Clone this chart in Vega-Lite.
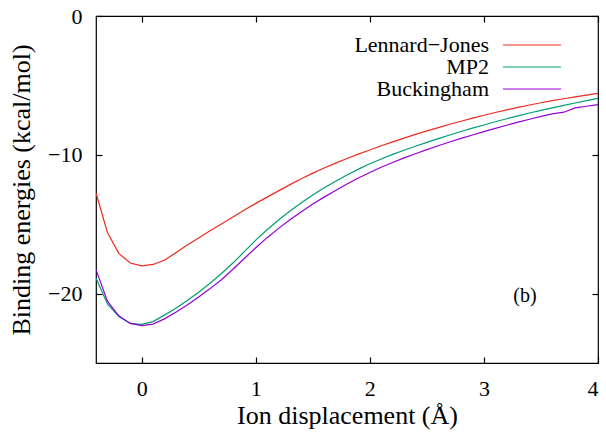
{
  "$schema": "https://vega.github.io/schema/vega-lite/v6.json",
  "autosize": "none",
  "width": 502,
  "height": 347,
  "padding": {"left": 96, "top": 16, "right": 8, "bottom": 71},
  "background": "white",
  "config": {
    "view": {"stroke": "black", "strokeWidth": 1.2},
    "font": "Liberation Serif, Times New Roman, Times, serif",
    "text": {"font": "Liberation Serif, Times New Roman, Times, serif"},
    "axis": {"grid": false, "domain": false, "labelFont": "Liberation Serif, Times New Roman, Times, serif", "titleFont": "Liberation Serif, Times New Roman, Times, serif", "labelFontSize": 22, "titleFontSize": 26, "titleFontWeight": "normal", "labelColor": "black", "titleColor": "black", "tickColor": "black", "tickSize": -6, "tickWidth": 1.2},
    "legend": {"labelFont": "Liberation Serif, Times New Roman, Times, serif"}
  },
  "datasets": {
    "curves": [
      {"x": -0.4, "y": -12.75, "series": "Lennard−Jones"},
      {"x": -0.3, "y": -15.6, "series": "Lennard−Jones"},
      {"x": -0.2, "y": -17.1, "series": "Lennard−Jones"},
      {"x": -0.1, "y": -17.8, "series": "Lennard−Jones"},
      {"x": 0.0, "y": -18.0, "series": "Lennard−Jones"},
      {"x": 0.1, "y": -17.9, "series": "Lennard−Jones"},
      {"x": 0.2, "y": -17.6, "series": "Lennard−Jones"},
      {"x": 0.3, "y": -17.05, "series": "Lennard−Jones"},
      {"x": 0.4, "y": -16.5, "series": "Lennard−Jones"},
      {"x": 0.5, "y": -16.0, "series": "Lennard−Jones"},
      {"x": 0.6, "y": -15.48, "series": "Lennard−Jones"},
      {"x": 0.7, "y": -14.98, "series": "Lennard−Jones"},
      {"x": 0.8, "y": -14.48, "series": "Lennard−Jones"},
      {"x": 0.9, "y": -13.98, "series": "Lennard−Jones"},
      {"x": 1.0, "y": -13.5, "series": "Lennard−Jones"},
      {"x": 1.1, "y": -13.05, "series": "Lennard−Jones"},
      {"x": 1.2, "y": -12.6, "series": "Lennard−Jones"},
      {"x": 1.3, "y": -12.15, "series": "Lennard−Jones"},
      {"x": 1.4, "y": -11.72, "series": "Lennard−Jones"},
      {"x": 1.5, "y": -11.32, "series": "Lennard−Jones"},
      {"x": 1.6, "y": -10.95, "series": "Lennard−Jones"},
      {"x": 1.7, "y": -10.6, "series": "Lennard−Jones"},
      {"x": 1.8, "y": -10.27, "series": "Lennard−Jones"},
      {"x": 1.9, "y": -9.95, "series": "Lennard−Jones"},
      {"x": 2.0, "y": -9.65, "series": "Lennard−Jones"},
      {"x": 2.1, "y": -9.35, "series": "Lennard−Jones"},
      {"x": 2.2, "y": -9.07, "series": "Lennard−Jones"},
      {"x": 2.3, "y": -8.8, "series": "Lennard−Jones"},
      {"x": 2.4, "y": -8.53, "series": "Lennard−Jones"},
      {"x": 2.5, "y": -8.28, "series": "Lennard−Jones"},
      {"x": 2.6, "y": -8.04, "series": "Lennard−Jones"},
      {"x": 2.7, "y": -7.8, "series": "Lennard−Jones"},
      {"x": 2.8, "y": -7.58, "series": "Lennard−Jones"},
      {"x": 2.9, "y": -7.36, "series": "Lennard−Jones"},
      {"x": 3.0, "y": -7.15, "series": "Lennard−Jones"},
      {"x": 3.1, "y": -6.95, "series": "Lennard−Jones"},
      {"x": 3.2, "y": -6.76, "series": "Lennard−Jones"},
      {"x": 3.3, "y": -6.58, "series": "Lennard−Jones"},
      {"x": 3.4, "y": -6.41, "series": "Lennard−Jones"},
      {"x": 3.5, "y": -6.25, "series": "Lennard−Jones"},
      {"x": 3.6, "y": -6.1, "series": "Lennard−Jones"},
      {"x": 3.7, "y": -5.96, "series": "Lennard−Jones"},
      {"x": 3.8, "y": -5.83, "series": "Lennard−Jones"},
      {"x": 3.9, "y": -5.7, "series": "Lennard−Jones"},
      {"x": 4.0, "y": -5.58, "series": "Lennard−Jones"},
      {"x": -0.4, "y": -18.87, "series": "MP2"},
      {"x": -0.3, "y": -20.75, "series": "MP2"},
      {"x": -0.2, "y": -21.65, "series": "MP2"},
      {"x": -0.1, "y": -22.15, "series": "MP2"},
      {"x": 0.0, "y": -22.22, "series": "MP2"},
      {"x": 0.1, "y": -22.02, "series": "MP2"},
      {"x": 0.2, "y": -21.55, "series": "MP2"},
      {"x": 0.3, "y": -21.05, "series": "MP2"},
      {"x": 0.4, "y": -20.5, "series": "MP2"},
      {"x": 0.5, "y": -19.9, "series": "MP2"},
      {"x": 0.6, "y": -19.25, "series": "MP2"},
      {"x": 0.7, "y": -18.55, "series": "MP2"},
      {"x": 0.8, "y": -17.8, "series": "MP2"},
      {"x": 0.9, "y": -16.98, "series": "MP2"},
      {"x": 1.0, "y": -16.15, "series": "MP2"},
      {"x": 1.1, "y": -15.4, "series": "MP2"},
      {"x": 1.2, "y": -14.7, "series": "MP2"},
      {"x": 1.3, "y": -14.05, "series": "MP2"},
      {"x": 1.4, "y": -13.45, "series": "MP2"},
      {"x": 1.5, "y": -12.9, "series": "MP2"},
      {"x": 1.6, "y": -12.38, "series": "MP2"},
      {"x": 1.7, "y": -11.9, "series": "MP2"},
      {"x": 1.8, "y": -11.45, "series": "MP2"},
      {"x": 1.9, "y": -11.03, "series": "MP2"},
      {"x": 2.0, "y": -10.65, "series": "MP2"},
      {"x": 2.1, "y": -10.3, "series": "MP2"},
      {"x": 2.2, "y": -9.97, "series": "MP2"},
      {"x": 2.3, "y": -9.67, "series": "MP2"},
      {"x": 2.4, "y": -9.38, "series": "MP2"},
      {"x": 2.5, "y": -9.1, "series": "MP2"},
      {"x": 2.6, "y": -8.83, "series": "MP2"},
      {"x": 2.7, "y": -8.57, "series": "MP2"},
      {"x": 2.8, "y": -8.32, "series": "MP2"},
      {"x": 2.9, "y": -8.08, "series": "MP2"},
      {"x": 3.0, "y": -7.85, "series": "MP2"},
      {"x": 3.1, "y": -7.62, "series": "MP2"},
      {"x": 3.2, "y": -7.4, "series": "MP2"},
      {"x": 3.3, "y": -7.19, "series": "MP2"},
      {"x": 3.4, "y": -6.99, "series": "MP2"},
      {"x": 3.5, "y": -6.8, "series": "MP2"},
      {"x": 3.6, "y": -6.62, "series": "MP2"},
      {"x": 3.7, "y": -6.44, "series": "MP2"},
      {"x": 3.8, "y": -6.27, "series": "MP2"},
      {"x": 3.9, "y": -6.1, "series": "MP2"},
      {"x": 4.0, "y": -5.93, "series": "MP2"},
      {"x": -0.4, "y": -18.27, "series": "Buckingham"},
      {"x": -0.3, "y": -20.55, "series": "Buckingham"},
      {"x": -0.2, "y": -21.6, "series": "Buckingham"},
      {"x": -0.1, "y": -22.15, "series": "Buckingham"},
      {"x": 0.0, "y": -22.3, "series": "Buckingham"},
      {"x": 0.1, "y": -22.2, "series": "Buckingham"},
      {"x": 0.2, "y": -21.82, "series": "Buckingham"},
      {"x": 0.3, "y": -21.35, "series": "Buckingham"},
      {"x": 0.4, "y": -20.82, "series": "Buckingham"},
      {"x": 0.5, "y": -20.25, "series": "Buckingham"},
      {"x": 0.6, "y": -19.64, "series": "Buckingham"},
      {"x": 0.7, "y": -19.0, "series": "Buckingham"},
      {"x": 0.8, "y": -18.25, "series": "Buckingham"},
      {"x": 0.9, "y": -17.47, "series": "Buckingham"},
      {"x": 1.0, "y": -16.7, "series": "Buckingham"},
      {"x": 1.1, "y": -15.97, "series": "Buckingham"},
      {"x": 1.2, "y": -15.3, "series": "Buckingham"},
      {"x": 1.3, "y": -14.68, "series": "Buckingham"},
      {"x": 1.4, "y": -14.1, "series": "Buckingham"},
      {"x": 1.5, "y": -13.55, "series": "Buckingham"},
      {"x": 1.6, "y": -13.05, "series": "Buckingham"},
      {"x": 1.7, "y": -12.57, "series": "Buckingham"},
      {"x": 1.8, "y": -12.1, "series": "Buckingham"},
      {"x": 1.9, "y": -11.67, "series": "Buckingham"},
      {"x": 2.0, "y": -11.27, "series": "Buckingham"},
      {"x": 2.1, "y": -10.9, "series": "Buckingham"},
      {"x": 2.2, "y": -10.55, "series": "Buckingham"},
      {"x": 2.3, "y": -10.22, "series": "Buckingham"},
      {"x": 2.4, "y": -9.92, "series": "Buckingham"},
      {"x": 2.5, "y": -9.63, "series": "Buckingham"},
      {"x": 2.6, "y": -9.35, "series": "Buckingham"},
      {"x": 2.7, "y": -9.08, "series": "Buckingham"},
      {"x": 2.8, "y": -8.82, "series": "Buckingham"},
      {"x": 2.9, "y": -8.57, "series": "Buckingham"},
      {"x": 3.0, "y": -8.33, "series": "Buckingham"},
      {"x": 3.1, "y": -8.1, "series": "Buckingham"},
      {"x": 3.2, "y": -7.87, "series": "Buckingham"},
      {"x": 3.3, "y": -7.65, "series": "Buckingham"},
      {"x": 3.4, "y": -7.44, "series": "Buckingham"},
      {"x": 3.5, "y": -7.23, "series": "Buckingham"},
      {"x": 3.6, "y": -7.05, "series": "Buckingham"},
      {"x": 3.7, "y": -6.93, "series": "Buckingham"},
      {"x": 3.8, "y": -6.62, "series": "Buckingham"},
      {"x": 3.9, "y": -6.5, "series": "Buckingham"},
      {"x": 4.0, "y": -6.38, "series": "Buckingham"}
    ],
    "note": [{"label": "(b)"}]
  },
  "resolve": {"axis": {"x": "independent", "y": "independent"}},
  "layer": [
    {
      "data": {"name": "curves"},
      "mark": {"type": "line", "strokeWidth": 1.2, "clip": true},
      "encoding": {
        "x": {"field": "x", "type": "quantitative", "scale": {"domain": [-0.4, 4], "nice": false, "zero": false},
              "axis": {"values": [0, 1, 2, 3, 4], "title": "Ion displacement (Å)", "labelPadding": 21, "titlePadding": 3, "format": "d"}},
        "y": {"field": "y", "type": "quantitative", "scale": {"domain": [-25, 0], "nice": false},
              "axis": {"values": [0, -10, -20], "title": "Binding energies (kcal/mol)", "labelPadding": 20, "titleX": -75, "titleBaseline": "middle", "format": "d"}},
        "color": {"field": "series", "type": "nominal",
                  "scale": {"domain": ["Lennard−Jones", "MP2", "Buckingham"], "range": ["#ee2a1e", "#009e73", "#9400d3"]},
                  "legend": {"title": null, "orient": "none", "legendX": 425, "legendY": 18, "direction": "vertical",
                             "symbolType": "M-29,0H29", "symbolSize": 4, "symbolStrokeWidth": 1.2,
                             "labelFontSize": 22, "labelColor": "black",
                             "labelAlign": "right", "labelOffset": -54, "rowPadding": 0, "labelLimit": 300}}
      }
    },
    {
      "data": {"name": "curves"},
      "mark": {"type": "line", "opacity": 0},
      "encoding": {
        "x": {"field": "x", "type": "quantitative", "axis": {"orient": "top", "values": [0, 1, 2, 3, 4], "labels": false, "title": null}},
        "y": {"field": "y", "type": "quantitative", "axis": {"orient": "right", "values": [0, -10, -20], "labels": false, "title": null}}
      }
    },
    {
      "data": {"name": "note"},
      "mark": {"type": "text", "fontSize": 20, "fill": "black"},
      "encoding": {
        "x": {"datum": 3.36, "type": "quantitative", "axis": null},
        "y": {"datum": -20.2, "type": "quantitative", "axis": null},
        "text": {"field": "label"}
      }
    }
  ]
}
